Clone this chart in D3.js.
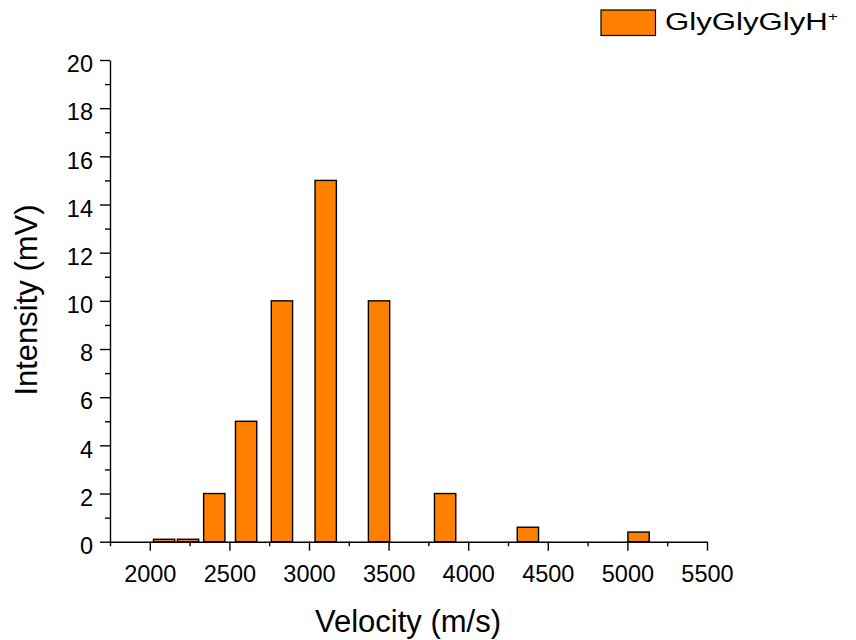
<!DOCTYPE html>
<html>
<head>
<meta charset="utf-8">
<script src="https://cdn.jsdelivr.net/npm/d3@7"></script>
<style>
  html, body { margin: 0; padding: 0; background: #fff; }
  svg { display: block; font-family: "Liberation Sans", Arial, Helvetica, sans-serif; }
  .axis path, .axis line { stroke: #000; stroke-width: 1.4; }
  .axis text { fill: #000; font-size: 23.5px; font-family: "Liberation Sans", Arial, sans-serif; }
</style>
</head>
<body>
<svg id="chart" width="856" height="640"></svg>
<script>
// Velocity bins (m/s, bin centres) and measured intensity (mV)
const velocities = [2090, 2240, 2405, 2605, 2830, 3105, 3440, 3855, 4375, 5070];
const intensities = [0.1, 0.1, 2, 5, 10, 15, 10, 2, 0.6, 0.4];
const xMajorTicks = [2000, 2500, 3000, 3500, 4000, 4500, 5000, 5500];
const xMinorTicks = [1750, 2250, 2750, 3250, 3750, 4250, 4750, 5250];
const yMajorTicks = [0, 2, 4, 6, 8, 10, 12, 14, 16, 18, 20];
const yMinorTicks = [1, 3, 5, 7, 9, 11, 13, 15, 17, 19];
const seriesName = "GlyGlyGlyH";

(function draw() {
  const svg = d3.select("#chart");
  const plotLeft = 110, plotRight = 707, plotTop = 60, plotBottom = 541.7;
  const barWidth = 21.3;
  const fillColor = "#ff8000";

  const x = d3.scaleLinear().domain([1750, 5500]).range([plotLeft, plotRight]);
  const y = d3.scaleLinear().domain([0, 20]).range([plotBottom, plotTop]);

  // bars
  svg.append("g").selectAll("rect")
    .data(velocities.map((v, i) => ({ v, val: intensities[i] })))
    .join("rect")
    .attr("x", d => x(d.v) - barWidth / 2)
    .attr("y", d => y(d.val))
    .attr("width", barWidth)
    .attr("height", d => y(0) - y(d.val))
    .attr("fill", fillColor)
    .attr("stroke", "#000")
    .attr("stroke-width", 1.4);

  // x axis: major + minor ticks
  svg.append("g").attr("class", "axis").attr("transform", `translate(0,${plotBottom})`)
    .call(d3.axisBottom(x).tickValues(xMajorTicks).tickSize(9).tickSizeOuter(0).tickPadding(15).tickFormat(d3.format("d")));
  svg.append("g").attr("class", "axis").attr("transform", `translate(0,${plotBottom})`)
    .call(d3.axisBottom(x).tickValues(xMinorTicks).tickSize(4.5).tickSizeOuter(0).tickFormat(""))
    .select(".domain").remove();

  // y axis: major + minor ticks
  const gy = svg.append("g").attr("class", "axis").attr("transform", `translate(${plotLeft},0)`)
    .call(d3.axisLeft(y).tickValues(yMajorTicks).tickSize(10).tickSizeOuter(0).tickPadding(7));
  gy.selectAll(".tick text").attr("dy", "0.5em");
  svg.append("g").attr("class", "axis").attr("transform", `translate(${plotLeft},0)`)
    .call(d3.axisLeft(y).tickValues(yMinorTicks).tickSize(5).tickSizeOuter(0).tickFormat(""))
    .select(".domain").remove();

  // axis titles
  svg.append("text")
    .attr("x", 408)
    .attr("y", 632)
    .attr("text-anchor", "middle")
    .attr("font-size", 31)
    .text("Velocity (m/s)");

  svg.append("text")
    .attr("transform", `translate(37,300) rotate(-90)`)
    .attr("text-anchor", "middle")
    .attr("font-size", 31)
    .text("Intensity (mV)");

  // legend
  const lg = svg.append("g");
  lg.append("rect")
    .attr("x", 601).attr("y", 10).attr("width", 54.5).attr("height", 25.5)
    .attr("fill", fillColor).attr("stroke", "#000").attr("stroke-width", 1.2);
  const lt = lg.append("text")
    .attr("transform", "translate(665,30) scale(1.3,1)")
    .attr("font-size", 24);
  lt.append("tspan").text(seriesName);
  lt.append("tspan").attr("font-size", 13).attr("dy", -9).text("+");
})();
</script>
</body>
</html>
